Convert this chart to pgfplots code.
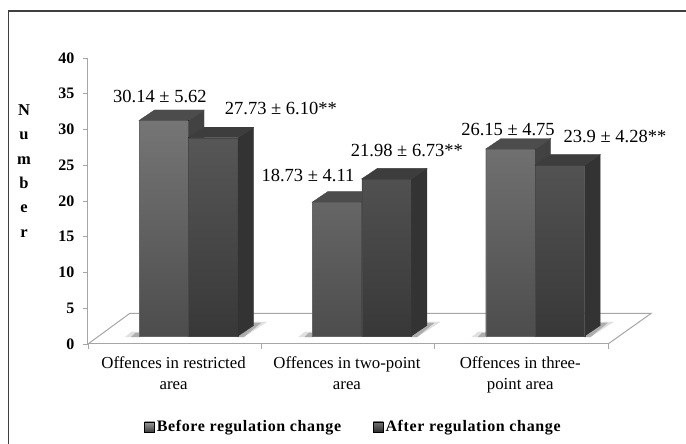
\documentclass[border=0pt]{standalone}
\usepackage{fontspec}
\setmainfont{Liberation Serif}
\newfontfamily\legfont[LetterSpace=4]{Liberation Serif}
\usepackage{pgfplots}
\usepackage{pgfplotstable}
\pgfplotsset{compat=1.18}

\definecolor{axisgray}{HTML}{A6A6A6}

% series: x position of bar group, value
\pgfplotstableread{
x v
0.58 30.14
1.58 18.73
2.58 26.15
}\before
\pgfplotstableread{
x v
0.58 27.73
1.58 21.98
2.58 23.90
}\after

% depth faces of the bars, 1px = 1pt here; \barval comes from the table
% #1 = x of top right corner from the mark, #2 side colour, #3 top colour
\newcommand{\depthfaces}[3]{%
  \fill[#2] (#1,0pt) -- (#1+15.5pt,10.5pt) -- (#1+15.5pt,10.5pt-\barval*7.15pt) -- (#1,-\barval*7.15pt) -- cycle;
  \fill[#3] (#1-49.5pt,0pt) -- (#1-34pt,10.5pt) -- (#1+15.5pt,10.5pt) -- (#1,0pt) -- cycle;
}
\pgfplotsset{
  depth marks/.style n args={3}{only marks,forget plot,scatter,mark=*,mark size=0.01pt,
    visualization depends on={rawy \as \barval},
    scatter/@pre marker code/.code={\begingroup\depthfaces{#1}{#2}{#3}},
    scatter/@post marker code/.code={\endgroup}},
  % marks come after paths inside one axis, so each series has its own axis
  bar layer/.style={
    at={(0pt,0pt)}, anchor=south west,
    scale only axis, width=520pt, height=286pt,
    xmin=0, xmax=3, ymin=-1.12, ymax=38.88,
    clip=false, hide axis},
}
\tikzset{val/.style={font=\fontsize{18.5}{18.5}\selectfont,inner sep=0pt}}

\begin{document}
\begin{tikzpicture}
\path[use as bounding box] (-88pt,-100pt) rectangle (598pt,344pt);
\fill[white] (-88pt,-100pt) rectangle (598pt,344pt);
\draw[color=black!75,line width=1.1pt] (-79.5pt,-100pt) -- (-79.5pt,333pt) -- (598pt,333pt);

% axis with ticks and floor
\begin{axis}[
    at={(0pt,0pt)}, anchor=south west,
    scale only axis, width=520pt, height=286pt,
    xmin=0, xmax=3, ymin=0, ymax=40,
    clip=false,
    axis x line=bottom, axis y line=left,
    axis line style={axisgray,line width=1pt,-},
    tick style={axisgray,line width=0.8pt},
    major tick length=5pt,
    tick align=outside,
    ytick={0,5,...,40},
    xtick={0,1,2,3}, xticklabels={},
    extra x ticks={0.494,1.494,2.494},
    extra x tick labels={Offences in restricted\\area,Offences in two-point\\area,Offences in three-\\point area},
    extra x tick style={
      major tick length=0pt,
      tick label style={font=\fontsize{16.8}{21}\selectfont,align=center,anchor=north,yshift=-9pt},
    },
    yticklabel style={font=\fontsize{16}{16}\selectfont\bfseries,xshift=-5pt,/pgf/number format/assume math mode=true},
    ylabel={N\\[6.3pt]u\\[6.3pt]m\\[6.3pt]b\\[6.3pt]e\\[6.3pt]r},
    ylabel style={rotate=-90,align=center,font=\fontsize{16.5}{18}\selectfont\bfseries,
      at={(rel axis cs:-0.123,0.605)},anchor=center},
]
\addplot[axisgray,line width=1pt] coordinates {(0,0)(0.242,4.3)(3.25,4.3)(3,0)};
\end{axis}

% floor shadows under each group, flat steps instead of a gradient
\begin{axis}[bar layer]
\addplot[only marks,forget plot,scatter,mark=*,mark size=0.01pt,
    scatter/@pre marker code/.code={
      \begingroup
      \fill[black!12] (-63pt,-1pt) -- (-49pt,-1pt) -- (-49pt,4pt) -- (-57pt,4pt) -- cycle;
      \fill[black!32] (-57pt,-1pt) -- (-49pt,-1pt) -- (-49pt,3pt) -- (-53pt,3pt) -- cycle;
      \fill[black!12] (49.5pt,-1pt) -- (55pt,-1pt) -- (78pt,14pt) -- (60pt,14pt) -- cycle;
      \fill[black!32] (49.5pt,-1pt) -- (55pt,-1pt) -- (72pt,13pt) -- (60pt,13pt) -- cycle;
      },
    scatter/@post marker code/.code={\endgroup},
    ] coordinates {(0.58,0)(1.58,0)(2.58,0)};
\end{axis}

% before: zero sits on the front edge of the bar bottoms
\begin{axis}[bar layer]
\addplot[depth marks={0pt}{black!74}{black!70}] table[x=x,y=v] {\before};
\addplot[ybar,bar shift=-24.75pt,bar width=49.5pt,draw=black!60,line width=0.3pt,top color=black!54,bottom color=black!70,forget plot] table[x=x,y=v] {\before};
\end{axis}

% after, with the legend
\begin{axis}[bar layer,
    legend style={at={(axis description cs:0.108,-0.29)},anchor=west,draw=none,fill=none,legend columns=2,
      font=\legfont\fontsize{16}{16}\selectfont\bfseries,
      /tikz/every even column/.style={column sep=30pt},inner sep=0pt},
]
\addlegendimage{legend image code/.code={\fill[top color=black!40,bottom color=black!75] (0pt,-5pt) rectangle (10pt,5pt);}}
\addlegendentry{Before regulation change}
\addlegendimage{legend image code/.code={\fill[top color=black!55,bottom color=black!82] (0pt,-5pt) rectangle (10pt,5pt);}}
\addlegendentry{After regulation change}
\addplot[depth marks={49.5pt}{black!80}{black!76}] table[x=x,y=v] {\after};
\addplot[ybar,bar shift=24.75pt,bar width=49.5pt,draw=black!72,line width=0.3pt,top color=black!66,bottom color=black!78,forget plot] table[x=x,y=v] {\after};
\end{axis}

% value labels, on the tick axis scale
\begin{axis}[
    at={(0pt,0pt)}, anchor=south west,
    scale only axis, width=520pt, height=286pt,
    xmin=0, xmax=3, ymin=0, ymax=40,
    clip=false, hide axis,
]
\node[val] at (axis cs:0.415,34.55) {30.14 ± 5.62};
\node[val] at (axis cs:1.113,33.0) {27.73 ± 6.10**};
\node[val] at (axis cs:1.269,23.5) {18.73 ± 4.11};
\node[val] at (axis cs:1.840,27.0) {21.98 ± 6.73**};
\node[val] at (axis cs:2.423,29.93) {26.15 ± 4.75};
\node[val] at (axis cs:3.040,29.09) {23.9 ± 4.28**};
\end{axis}
\end{tikzpicture}
\end{document}
